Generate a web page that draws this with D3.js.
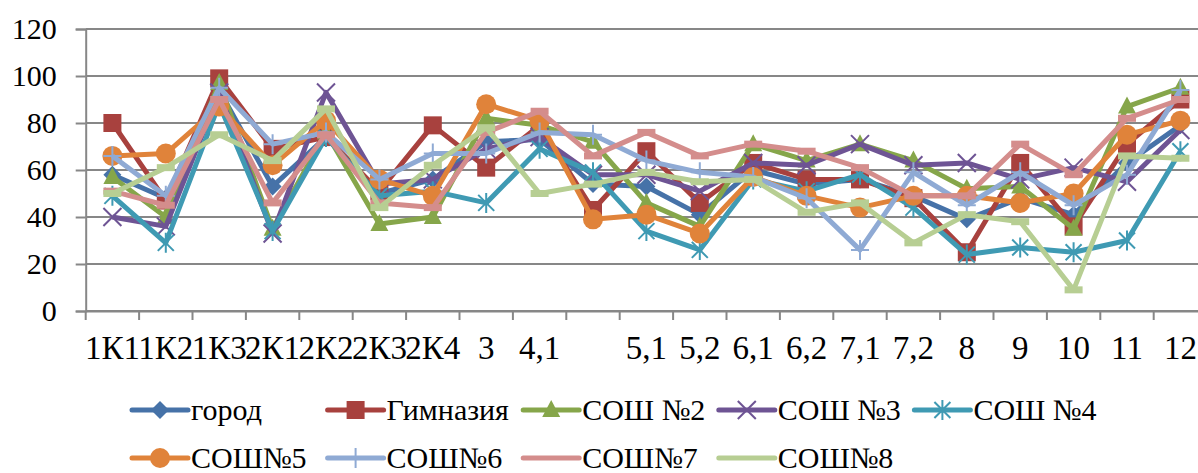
<!DOCTYPE html>
<html><head><meta charset="utf-8">
<script src="https://cdn.jsdelivr.net/npm/d3@7"></script>
<style>
html,body{margin:0;padding:0;background:#fff;}
svg{display:block;}
text{font-family:"Liberation Serif","Times New Roman",serif;fill:#000;}
</style></head>
<body>
<svg id="chart" width="1198" height="473"></svg>
<script>
const categories = ["1К1","1К2","1К3","2К1","2К2","2К3","2К4","3","4,1","","5,1","5,2","6,1","6,2","7,1","7,2","8","9","10","11","12"];
const yTicks = [0,20,40,60,80,100,120];
const seriesNames = ["город","Гимназия","СОШ №2","СОШ №3","СОШ №4","СОШ№5","СОШ№6","СОШ№7","СОШ№8"];
const gorod    = [58,48,94,53,74,50,56,72,73,54,53,41,60,54,56,49,39,48,41,63,79];
const gimnazia = [80,47,99,69,74,51,79,61,79,43,68,46,63,56,56,48,25,63,36,71,90];
const sosh2    = [57,40,97,35,76,37,40,82,79,72,46,36,71,64,71,64,52,53,35,87,95];
const sosh3    = [40,36,93,33,93,54,56,69,74,58,58,51,63,62,71,62,63,56,61,55,77];
const sosh4    = [49,29,88,34,74,49,51,46,69,59,34,26,56,51,58,44,24,27,25,30,68];
const sosh5    = [66,67,87,62,81,56,49,88,81,39,41,33,57,49,44,49,49,46,50,75,81];
const sosh6    = [66,49,95,71,76,56,67,67,76,75,64,59,57,48,26,59,45,59,45,58,94];
const sosh7    = [51,45,90,46,75,46,44,76,85,66,76,66,71,68,61,49,49,71,58,82,90];
const sosh8    = [50,61,75,64,86,44,62,78,50,54,59,55,56,42,46,29,41,38,9,66,65];
const seriesValues = [gorod,gimnazia,sosh2,sosh3,sosh4,sosh5,sosh6,sosh7,sosh8];
const colors = ["#4672A8","#A8413E","#86A64A","#6E5494","#3F9AB3","#E0833A","#8FAAD4","#D48D8C","#B7CE93"];
const markers = ["diamond","square","triangle","x","asterisk","circle","plus","dash","dash"];

const svg = d3.select("#chart");
const plotLeft = 85.7, band = 53.4, plotTop = 29, plotBottom = 311;
const x = d3.scaleBand().domain(d3.range(categories.length)).range([plotLeft, plotLeft + band*categories.length]).padding(0);
const y = d3.scaleLinear().domain([0,120]).range([plotBottom, plotTop]);
const grid = "#878787";

// gridlines
svg.append("g").selectAll("line").data(yTicks).join("line")
  .attr("x1", plotLeft).attr("x2", 1198)
  .attr("y1", d=>y(d)).attr("y2", d=>y(d))
  .attr("stroke", grid).attr("stroke-width", 2);

// y axis
const yAxis = svg.append("g").attr("transform", `translate(${plotLeft},0)`)
  .call(d3.axisLeft(y).tickValues(yTicks).tickSize(10).tickPadding(19));
yAxis.attr("font-family", null);
yAxis.select(".domain").attr("stroke", grid).attr("stroke-width", 2);
yAxis.selectAll(".tick line").attr("stroke", grid).attr("stroke-width", 2);
yAxis.selectAll("text").attr("font-size", 30).attr("fill","#000");

// x axis
const xAxis = svg.append("g").attr("transform", `translate(0,${plotBottom})`)
  .call(d3.axisBottom(x).tickFormat(i=>categories[i]).tickSize(0).tickPadding(25));
xAxis.attr("font-family", null);
xAxis.select(".domain").attr("stroke", grid).attr("stroke-width", 2);
xAxis.selectAll("text").attr("font-size", 33).attr("fill","#000");
svg.append("g").selectAll("line").data(d3.range(categories.length+1)).join("line")
  .attr("x1", i => i < categories.length ? x(i) : x(i-1)+band)
  .attr("x2", i => i < categories.length ? x(i) : x(i-1)+band)
  .attr("y1", plotBottom).attr("y2", plotBottom+9)
  .attr("stroke", grid).attr("stroke-width", 2);

function markerPath(type){
  switch(type){
    case "diamond": return "M0,-9L9,0L0,9L-9,0Z";
    case "square": return "M-9,-9H9V9H-9Z";
    case "triangle": return "M0,-10L9,7H-9Z";
    case "circle": return d3.symbol(d3.symbolCircle, Math.PI*100)();
    default: return null;
  }
}
function drawMarker(g, type, color, cx, cy){
  const p = markerPath(type);
  if (p){
    g.append("path").attr("d", p).attr("transform", `translate(${cx},${cy})`).attr("fill", color);
  } else if (type==="x"){
    g.append("path").attr("d","M-9,-9L9,9M-9,9L9,-9").attr("transform", `translate(${cx},${cy})`)
      .attr("stroke", color).attr("stroke-width", 2).attr("fill","none");
  } else if (type==="asterisk"){
    g.append("path").attr("d","M-8,-8L8,8M-8,8L8,-8M0,-10V10").attr("transform", `translate(${cx},${cy})`)
      .attr("stroke", color).attr("stroke-width", 2).attr("fill","none");
  } else if (type==="plus"){
    g.append("path").attr("d","M0,-10V10M-9,0H9").attr("transform", `translate(${cx},${cy})`)
      .attr("stroke", color).attr("stroke-width", 2).attr("fill","none");
  } else if (type==="dash"){
    g.append("rect").attr("x", cx-9).attr("y", cy-3.5).attr("width", 18).attr("height", 7).attr("fill", color);
  }
}

const line = d3.line().x((d,i)=>x(i)+band/2).y(d=>y(d));
seriesValues.forEach((vals, s)=>{
  const g = svg.append("g");
  g.append("path").datum(vals).attr("d", line).attr("fill","none")
    .attr("stroke", colors[s]).attr("stroke-width", 5).attr("stroke-linejoin","round");
  vals.forEach((v,i)=> drawMarker(g, markers[s], colors[s], x(i)+band/2, y(v)));
});

// legend
const legend = svg.append("g");
const colX0 = 132, colW = 195.6, rowY = [410, 458];
seriesNames.forEach((name, s)=>{
  const col = s % 5, row = Math.floor(s/5);
  const lx = colX0 + col*colW, ly = rowY[row];
  const g = legend.append("g");
  g.append("line").attr("x1", lx).attr("x2", lx+56).attr("y1", ly).attr("y2", ly)
    .attr("stroke", colors[s]).attr("stroke-width", 5).attr("stroke-linecap","round");
  if (markers[s] !== "dash") drawMarker(g, markers[s], colors[s], lx+28, ly);
  g.append("text").attr("x", lx+59).attr("y", ly+10).attr("font-size", 30).text(name);
});
</script>
</body></html>
